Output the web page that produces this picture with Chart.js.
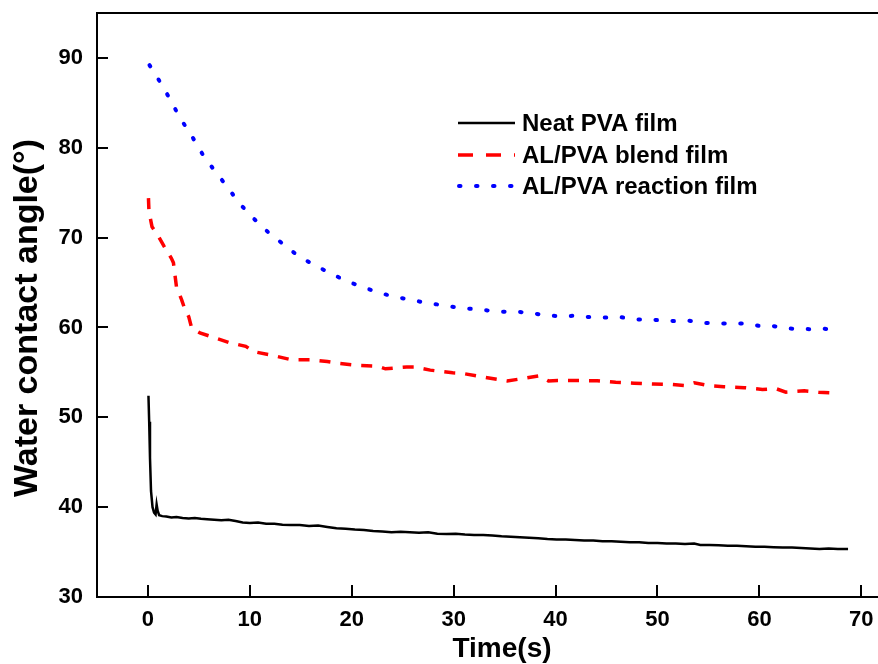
<!DOCTYPE html>
<html>
<head>
<meta charset="utf-8">
<script src="https://cdn.jsdelivr.net/npm/chart.js@4"></script>
<style>
  html, body { margin: 0; padding: 0; background: #fff; overflow: hidden; }
  canvas { display: block; }
</style>
</head>
<body>
<canvas id="chart" width="878" height="664"></canvas>
<script>
const FONT = '"Liberation Sans", Arial, Helvetica, sans-serif';

const seriesNames = ["Neat PVA film", "AL/PVA blend film", "AL/PVA reaction film"];
const xTicks = [0, 10, 20, 30, 40, 50, 60, 70];
const yTicks = [30, 40, 50, 60, 70, 80, 90];

// neat PVA film
const neatX = [0.05, 0.12, 0.2, 0.3, 0.45, 0.6, 0.75, 0.85, 0.95, 1.1, 1.4, 1.8, 2.3, 2.8, 3.4, 4.0, 4.6, 5.2, 5.8, 6.5,
  7.2, 7.9, 8.6, 9.3, 10.0, 10.8, 11.6, 12.4, 13.2, 14.0, 14.9, 15.8, 16.7, 17.6, 18.5, 19.4, 20.3, 21.2, 22.1, 23.0,
  23.9, 24.8, 25.7, 26.6, 27.5, 28.4, 29.3, 30.2, 31.1, 32.0, 32.9, 33.8, 34.7, 35.6, 36.5, 37.4, 38.3, 39.2, 40.1, 41.0,
  41.9, 42.8, 43.7, 44.6, 45.5, 46.4, 47.3, 48.2, 49.1, 50.0, 50.9, 51.8, 52.7, 53.6, 54.2, 55.1, 56.0, 56.9, 57.8, 58.7,
  59.6, 60.5, 61.4, 62.3, 63.2, 64.1, 65.0, 65.9, 66.8, 67.7, 68.7];
const neatY = [52.4, 49.5, 45.5, 41.8, 40.0, 39.4, 39.2, 40.3, 39.6, 39.1, 39.0, 38.95, 38.85, 38.9, 38.8, 38.75, 38.8, 38.7, 38.65, 38.6,
  38.55, 38.6, 38.45, 38.3, 38.25, 38.3, 38.15, 38.15, 38.05, 38.0, 38.0, 37.9, 37.95, 37.8, 37.65, 37.6, 37.5, 37.45, 37.35, 37.3,
  37.2, 37.25, 37.2, 37.15, 37.2, 37.05, 37.0, 37.05, 36.95, 36.9, 36.9, 36.85, 36.75, 36.7, 36.65, 36.6, 36.55, 36.45, 36.4, 36.4,
  36.35, 36.3, 36.3, 36.2, 36.2, 36.15, 36.1, 36.1, 36.0, 36.0, 35.95, 35.95, 35.9, 35.95, 35.8, 35.8, 35.75, 35.7, 35.7, 35.65,
  35.6, 35.6, 35.55, 35.5, 35.5, 35.45, 35.4, 35.35, 35.4, 35.35, 35.35];

// AL/PVA blend film
const blendX = [0.05, 0.1, 0.4, 1.0, 1.6, 2.3, 2.5, 2.8, 3.3, 3.6, 4.0, 4.3, 5.1, 6.4, 8.0, 9.6, 10.4, 12.2, 14.1, 15.9,
  17.6, 18.7, 20.4, 22.5, 23.3, 25.4, 26.1, 27.7, 29.9, 30.8, 33.3, 35.25, 36.7, 38.35, 39.3, 40.2, 42.4, 44.1, 45.9, 47.7,
  49.6, 51.4, 52.6, 53.6, 55.2, 56.5, 58.5, 60.3, 61.6, 62.6, 64.4, 65.8, 67.6];
const blendY = [74.4, 72.9, 71.2, 70.2, 69.0, 67.7, 67.2, 64.5, 63.1, 62.1, 61.2, 59.9, 59.4, 58.9, 58.3, 57.9, 57.3, 56.9, 56.4, 56.4,
  56.2, 56.0, 55.8, 55.7, 55.4, 55.6, 55.6, 55.25, 54.95, 54.9, 54.4, 54.05, 54.3, 54.6, 54.05, 54.1, 54.1, 54.06, 53.9, 53.8,
  53.7, 53.65, 53.55, 53.85, 53.5, 53.4, 53.3, 53.1, 53.2, 52.8, 52.95, 52.8, 52.7];

// AL/PVA reaction film
const reactX = [0.15, 1.2, 2.2, 3.1, 4.2, 5.35, 6.6, 7.8, 8.9, 10.4, 11.8, 13.3, 14.7, 16.3, 17.8, 19.4, 21.05, 22.6, 24.2, 25.8,
  27.2, 28.8, 30.4, 32.0, 33.3, 34.8, 36.2, 37.7, 39.0, 40.5, 41.9, 43.4, 44.9, 46.1, 47.7, 48.9, 50.3, 51.8, 53.1, 54.7,
  56.25, 57.4, 58.8, 60.3, 61.4, 62.5, 63.7, 65.2, 66.4, 67.8];
const reactY = [89.2, 87.3, 85.35, 83.4, 81.5, 79.3, 77.35, 75.65, 73.9, 72.1, 70.6, 69.25, 68.0, 66.95, 66.1, 65.2, 64.5, 63.9, 63.4, 63.1,
  62.75, 62.5, 62.2, 62.05, 61.9, 61.75, 61.75, 61.6, 61.35, 61.25, 61.3, 61.15, 61.1, 61.2, 60.9, 60.9, 60.8, 60.7, 60.75, 60.5,
  60.45, 60.45, 60.45, 60.1, 60.15, 59.9, 59.85, 59.8, 59.85, 59.6];

function pairs(xs, ys) {
  return xs.map((x, i) => ({ x: x, y: ys[i] }));
}

const tickFont = { family: FONT, size: 22, weight: "bold" };

// frame, inward ticks, axis titles and the legend
const decorations = {
  id: "decorations",
  afterDraw(chart) {
    const { ctx, chartArea, scales } = chart;
    ctx.save();
    ctx.strokeStyle = "#000";
    ctx.lineWidth = 2;
    ctx.beginPath();
    ctx.moveTo(chartArea.left, chartArea.top);
    ctx.lineTo(chartArea.right, chartArea.top);
    xTicks.forEach((v) => {
      const px = Math.round(scales.x.getPixelForValue(v));
      ctx.moveTo(px, chartArea.bottom);
      ctx.lineTo(px, chartArea.bottom - 12);
    });
    yTicks.forEach((v) => {
      const py = Math.round(scales.y.getPixelForValue(v));
      ctx.moveTo(chartArea.left, py);
      ctx.lineTo(chartArea.left + 11, py);
    });
    ctx.stroke();

    ctx.fillStyle = "#000";
    ctx.font = "bold 28px " + FONT;
    ctx.textAlign = "center";
    ctx.textBaseline = "alphabetic";
    ctx.fillText("Time(s)", 502, 657);

    ctx.save();
    ctx.translate(37, 318);
    ctx.rotate(-Math.PI / 2);
    ctx.font = "bold 34px " + FONT;
    ctx.fillText("Water contact angle(°)", 0, 0);
    ctx.restore();

    // legend
    const rows = [131, 163, 194];
    ctx.font = "bold 24px " + FONT;
    ctx.textAlign = "left";
    chart.data.datasets.forEach((ds, i) => {
      const y = rows[i] - 8;
      ctx.save();
      ctx.strokeStyle = ds.borderColor;
      ctx.lineWidth = ds.borderWidth;
      ctx.lineCap = ds.borderCapStyle || "butt";
      ctx.setLineDash(i === 1 ? [15, 13] : (ds.borderDash || []));
      ctx.beginPath();
      ctx.moveTo(i === 2 ? 459 : 458, y);
      ctx.lineTo(515, y);
      ctx.stroke();
      ctx.restore();
      ctx.fillText(ds.label, 522, rows[i]);
    });
    ctx.restore();
  },
};

new Chart(document.getElementById("chart"), {
  type: "line",
  data: {
    datasets: [
      {
        label: seriesNames[0],
        data: pairs(neatX, neatY),
        borderColor: "#000000",
        borderWidth: 2.5,
        pointRadius: 0,
        tension: 0,
      },
      {
        label: seriesNames[1],
        data: pairs(blendX, blendY),
        borderColor: "#ff0000",
        borderWidth: 3.5,
        borderDash: [11, 10],
        pointRadius: 0,
        tension: 0,
      },
      {
        label: seriesNames[2],
        data: pairs(reactX, reactY),
        borderColor: "#0000ff",
        borderWidth: 4,
        borderDash: [1.5, 15.5],
        borderCapStyle: "round",
        pointRadius: 0,
        tension: 0,
      },
    ],
  },
  options: {
    responsive: false,
    animation: false,
    devicePixelRatio: 1,
    layout: { autoPadding: false, padding: { top: 13, right: 0, bottom: 0, left: 0 } },
    plugins: {
      legend: { display: false },
      tooltip: { enabled: false },
    },
    scales: {
      x: {
        type: "linear",
        min: -5,
        max: 71.64,
        afterBuildTicks: (scale) => {
          scale.ticks = xTicks.map((v) => ({ value: v }));
        },
        afterFit: (scale) => {
          scale.height = 67;
          scale.paddingLeft = 0;
          scale.paddingRight = 0;
        },
        grid: { drawOnChartArea: false, drawTicks: false },
        border: { color: "#000", width: 2 },
        ticks: { padding: 10, color: "#000", font: tickFont, maxRotation: 0 },
      },
      y: {
        min: 30,
        max: 95,
        afterBuildTicks: (scale) => {
          scale.ticks = yTicks.map((v) => ({ value: v }));
        },
        afterFit: (scale) => {
          scale.width = 97;
          scale.paddingTop = 0;
          scale.paddingBottom = 0;
        },
        grid: { drawOnChartArea: false, drawTicks: false },
        border: { color: "#000", width: 2 },
        ticks: { padding: 14, color: "#000", font: tickFont },
      },
    },
  },
  plugins: [decorations],
});
</script>
</body>
</html>
